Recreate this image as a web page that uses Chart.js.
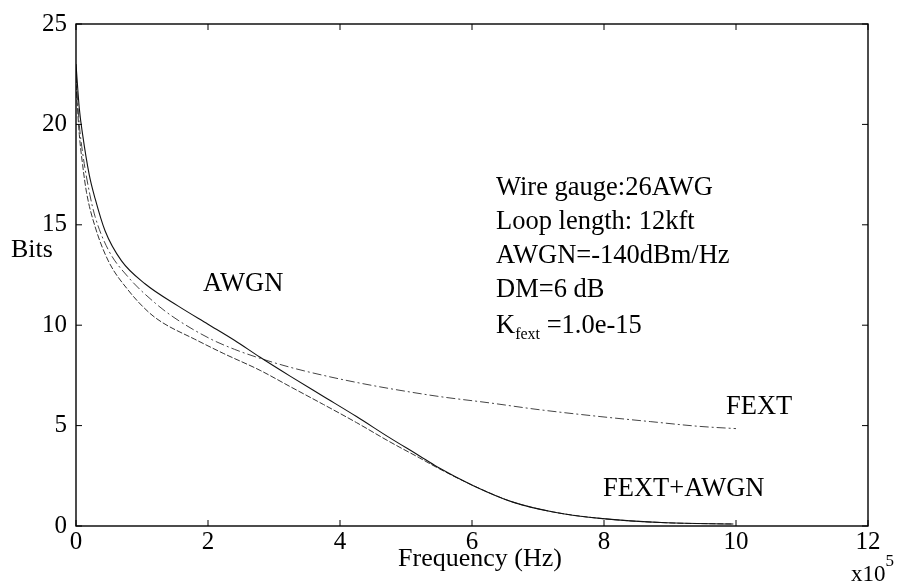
<!DOCTYPE html>
<html>
<head>
<meta charset="utf-8">
<script src="https://cdn.jsdelivr.net/npm/chart.js@4.4.1/dist/chart.umd.min.js"></script>
<style>
html,body{margin:0;padding:0;background:#fff;}
#wrap{width:898px;height:584px;position:relative;}
</style>
</head>
<body>
<div id="wrap"><canvas id="c" width="898" height="584"></canvas></div>
<script>
// Frequency in units of 1e5 Hz, Bits per tone
const awgnX = [0, 0.05, 0.1, 0.2, 0.29, 0.44, 0.69, 1.05, 1.55, 2.0, 2.4, 2.79, 3.25, 3.75, 4.25, 4.75, 5.2, 5.47, 6.02, 6.62, 7.23, 7.94, 8.95, 9.96];
const awgnY = [23, 20.8, 19.5, 17.5, 16.3, 14.7, 13.2, 12.05, 10.95, 10.05, 9.25, 8.4, 7.45, 6.45, 5.45, 4.4, 3.5, 2.95, 2.01, 1.19, 0.70, 0.38, 0.16, 0.10];

const fextX = [0, 0.05, 0.1, 0.21, 0.29, 0.49, 0.79, 1.2, 1.5, 2.03, 2.4, 2.79, 3.25, 3.75, 4.25, 4.76, 5.5, 6.27, 7.0, 7.94, 8.7, 9.45, 10];
const fextY = [22.5, 20.0, 18.6, 16.5, 15.4, 13.75, 12.4, 11.1, 10.35, 9.33, 8.8, 8.35, 7.9, 7.5, 7.15, 6.84, 6.45, 6.13, 5.8, 5.45, 5.2, 4.96, 4.85];

const bothX = [0, 0.05, 0.1, 0.16, 0.29, 0.49, 0.79, 1.1, 1.3, 1.8, 2.23, 2.79, 3.24, 3.75, 4.25, 4.75, 5.2, 5.47, 6.02, 6.62, 7.23, 7.94, 8.95, 9.96];
const bothY = [22, 19.5, 18.0, 16.6, 14.9, 13.2, 11.75, 10.65, 10.15, 9.3, 8.6, 7.75, 6.95, 6.05, 5.15, 4.2, 3.4, 2.91, 2.01, 1.19, 0.70, 0.38, 0.16, 0.10];

const xTicks = [0, 2, 4, 6, 8, 10, 12];
const yTicks = [0, 5, 10, 15, 20, 25];
const infoLines = ["Wire gauge:26AWG", "Loop length: 12kft", "AWGN=-140dBm/Hz", "DM=6 dB"];

const pts = (xs, ys) => xs.map((x, i) => ({x: x, y: ys[i]}));
const SERIF = '"Liberation Serif", "Times New Roman", serif';

const framePlugin = {
  id: 'frame',
  afterDraw(chart) {
    const ctx = chart.ctx, a = chart.chartArea;
    const xs = chart.scales.x, ys = chart.scales.y;
    ctx.save();
    ctx.strokeStyle = '#000';
    ctx.lineWidth = 1.4;
    ctx.strokeRect(a.left, a.top, a.right - a.left, a.bottom - a.top);
    ctx.lineWidth = 1;
    xTicks.forEach(v => {
      const p = xs.getPixelForValue(v);
      ctx.beginPath();
      ctx.moveTo(p, a.bottom); ctx.lineTo(p, a.bottom - 6);
      ctx.moveTo(p, a.top); ctx.lineTo(p, a.top + 6);
      ctx.stroke();
    });
    yTicks.forEach(v => {
      const p = ys.getPixelForValue(v);
      ctx.beginPath();
      ctx.moveTo(a.left, p); ctx.lineTo(a.left + 6, p);
      ctx.moveTo(a.right, p); ctx.lineTo(a.right - 6, p);
      ctx.stroke();
    });
    ctx.fillStyle = '#000';
    ctx.textBaseline = 'alphabetic';
    ctx.textAlign = 'left';
    ctx.font = '26px ' + SERIF;
    // axis titles
    ctx.fillText('Bits', 11, 257);
    ctx.textAlign = 'center';
    ctx.fillText('Frequency (Hz)', 480, 566);
    ctx.textAlign = 'left';
    ctx.font = '23px ' + SERIF;
    ctx.fillText('x10', 851, 581);
    const wx = ctx.measureText('x10').width;
    ctx.font = '17px ' + SERIF;
    ctx.fillText('5', 851 + wx, 566);
    // curve labels
    ctx.font = '26.5px ' + SERIF;
    ctx.fillText('AWGN', 203, 291);
    ctx.fillText('FEXT', 726, 414);
    ctx.fillText('FEXT+AWGN', 603, 496);
    // info block
    infoLines.forEach((t, i) => ctx.fillText(t, 496, 195 + i * 34));
    const ky = 195 + 4 * 34 + 2;
    ctx.fillText('K', 496, ky);
    let w = ctx.measureText('K').width;
    ctx.font = '16px ' + SERIF;
    ctx.fillText('fext', 496 + w, ky + 6);
    const w2 = ctx.measureText('fext').width;
    ctx.font = '26.5px ' + SERIF;
    ctx.fillText(' =1.0e-15', 496 + w + w2, ky);
    ctx.restore();
  }
};

new Chart(document.getElementById('c'), {
  type: 'line',
  data: {
    datasets: [
      {label: 'AWGN', data: pts(awgnX, awgnY), borderColor: '#111', borderWidth: 1.1, borderDash: []},
      {label: 'FEXT', data: pts(fextX, fextY), borderColor: '#444', borderWidth: 1, borderDash: [9, 3, 2, 3]},
      {label: 'FEXT+AWGN', data: pts(bothX, bothY), borderColor: '#333', borderWidth: 1, borderDash: [6, 2]}
    ]
  },
  options: {
    responsive: false,
    animation: false,
    devicePixelRatio: 1,
    elements: {point: {radius: 0}, line: {tension: 0.4, cubicInterpolationMode: 'monotone', fill: false}},
    layout: {padding: {left: 0, right: 30, top: 17, bottom: 0}},
    plugins: {legend: {display: false}, tooltip: {enabled: false}, title: {display: false}},
    scales: {
      x: {
        type: 'linear', min: 0, max: 12,
        afterBuildTicks: s => { s.ticks = xTicks.map(v => ({value: v})); },
        afterFit: s => { s.height = 58; },
        grid: {display: false, drawTicks: false},
        border: {display: false},
        ticks: {color: '#000', padding: 1, font: {family: SERIF, size: 25}, maxRotation: 0, autoSkip: false}
      },
      y: {
        type: 'linear', min: 0, max: 25,
        afterBuildTicks: s => { s.ticks = yTicks.map(v => ({value: v})); },
        afterFit: s => { s.width = 76; },
        grid: {display: false, drawTicks: false},
        border: {display: false},
        ticks: {color: '#000', padding: 9, font: {family: SERIF, size: 25}, autoSkip: false}
      }
    }
  },
  plugins: [framePlugin]
});
</script>
</body>
</html>
